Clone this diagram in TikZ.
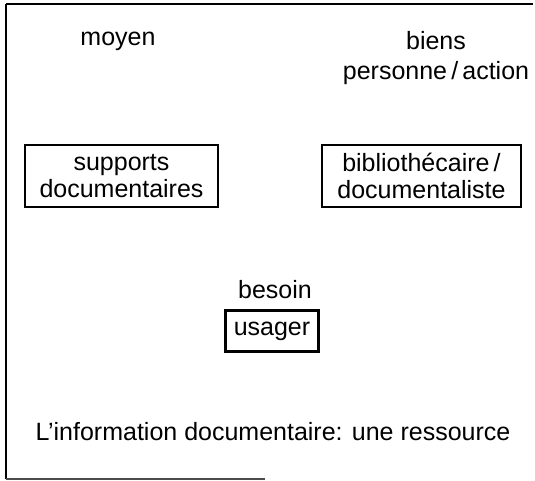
\documentclass[tikz,border=0pt]{standalone}
\usepackage{fontspec}
\setmainfont{Liberation Sans}
\begin{document}
\begin{tikzpicture}[x=1pt,y=-1pt,
  lbl/.style={font=\fontsize{25}{30}\selectfont, inner sep=0pt, align=center},
  boxed/.style={draw, line width=2.2pt, font=\fontsize{25}{27}\selectfont, align=center, inner sep=0pt},
  frame/.style={line width=2.4pt}]
\useasboundingbox (0,0) rectangle (535,481);
\coordinate (tl) at (6,4);
\coordinate (tr) at (533,4);
\coordinate (bl) at (6,479);
\coordinate (br) at (265,479);
\draw[line width=1.8pt] (tr) -- (tl);
\draw[frame] (tl) -- (bl);
\draw[line width=1.4pt, black!70] (bl) -- (br);
\node[lbl] (moyen) at (118,41) {moyen};
\node[lbl] (biens) at (436,41) {biens};
\node[lbl] (pers) at (436,73) {personne\,/\,action};
\node[boxed, minimum width=193pt, minimum height=62pt] (supp) at (121.5,176) {supports\\documentaires};
\node[boxed, minimum width=199pt, minimum height=62pt] (bib) at (421.5,176) {bibliothécaire\,/\\documentaliste};
\node[lbl] (besoin) at (275,290) {besoin};
\node[boxed, minimum width=93pt, minimum height=41pt] (usager) at (272,331) {usager};
\node[lbl] (info) at (273,432) {L’information documentaire: une ressource};
\end{tikzpicture}
\end{document}
